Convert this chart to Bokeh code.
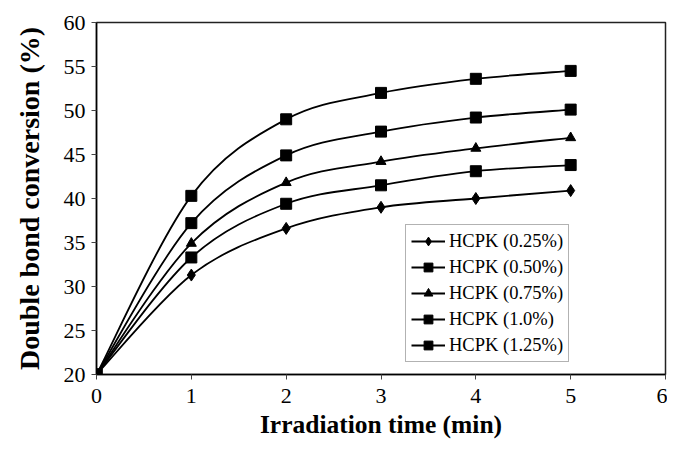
from bokeh.plotting import figure
from bokeh.models import Legend, LegendItem, Range1d, FixedTicker
from bokeh.embed import file_html
from bokeh.resources import INLINE

# ---- data ----
time_min = [0, 1, 2, 3, 4, 5]
hcpk_025 = [20, 31.3, 36.6, 39.0, 40.0, 40.9]
hcpk_050 = [20, 33.3, 39.4, 41.5, 43.1, 43.8]
hcpk_075 = [20, 34.9, 41.8, 44.2, 45.7, 46.9]
hcpk_100 = [20, 37.2, 44.9, 47.6, 49.2, 50.1]
hcpk_125 = [20, 40.3, 49.0, 52.0, 53.6, 54.5]
labels = ["HCPK (0.25%)", "HCPK (0.50%)", "HCPK (0.75%)", "HCPK (1.0%)", "HCPK (1.25%)"]
markers = ["diamond", "square", "triangle", "square", "square"]
x_ticks = [0, 1, 2, 3, 4, 5, 6]
y_ticks = [20, 25, 30, 35, 40, 45, 50, 55, 60]

FONT = "Liberation Serif"

p = figure(width=667, height=446, output_backend="svg", toolbar_location=None,
           x_range=Range1d(0, 6), y_range=Range1d(20, 60),
           min_border_left=96, min_border_top=22, min_border_bottom=72, min_border_right=2)
p.xgrid.visible = False
p.ygrid.visible = False
p.outline_line_color = "#222222"
p.outline_line_width = 1.5
p.background_fill_color = "white"
p.border_fill_color = "white"

for ax in (p.xaxis[0], p.yaxis[0]):
    ax.axis_line_color = "black"
    ax.axis_line_width = 1.5
    ax.major_tick_line_color = "#444444"
    ax.major_tick_in = 0
    ax.major_tick_out = 5
    ax.minor_tick_line_color = None
    ax.major_label_text_font = FONT
    ax.major_label_text_font_size = "22px"
    ax.major_label_text_color = "black"
    ax.axis_label_text_font = FONT
    ax.axis_label_text_font_style = "bold"
    ax.axis_label_text_color = "black"

p.xaxis.axis_label_text_font_size = "25.5px"
p.yaxis.axis_label_text_font_size = "28px"
p.xaxis.ticker = FixedTicker(ticks=x_ticks)
p.yaxis.ticker = FixedTicker(ticks=y_ticks)
p.xaxis.axis_label = "Irradiation time (min)"
p.yaxis.axis_label = "Double bond conversion (%)"
p.xaxis.major_label_standoff = 9
p.xaxis.axis_label_standoff = 4
p.yaxis.major_label_standoff = 6
p.yaxis.axis_label_standoff = 16


def smooth_segments(xs, ys):
    """Excel-style smoothed line: Catmull-Rom control points for Bezier segments."""
    n = len(xs)
    x0, y0, x1, y1, cx0, cy0, cx1, cy1 = [], [], [], [], [], [], [], []
    for i in range(n - 1):
        xp, yp = (xs[i - 1], ys[i - 1]) if i > 0 else (xs[i], ys[i])
        xn, yn = (xs[i + 2], ys[i + 2]) if i + 2 < n else (xs[i + 1], ys[i + 1])
        x0.append(xs[i]); y0.append(ys[i])
        x1.append(xs[i + 1]); y1.append(ys[i + 1])
        cx0.append(xs[i] + (xs[i + 1] - xp) / 6.0)
        cy0.append(ys[i] + (ys[i + 1] - yp) / 6.0)
        cx1.append(xs[i + 1] - (xn - xs[i]) / 6.0)
        cy1.append(ys[i + 1] - (yn - ys[i]) / 6.0)
    return dict(x0=x0, y0=y0, x1=x1, y1=y1, cx0=cx0, cy0=cy0, cx1=cx1, cy1=cy1)


series = [hcpk_025, hcpk_050, hcpk_075, hcpk_100, hcpk_125]
sizes = {"diamond": 12, "square": 11, "triangle": 10}
items = []
for ys, lab, mk in zip(series, labels, markers):
    seg = smooth_segments(time_min, ys)
    br = p.bezier(x0=seg["x0"], y0=seg["y0"], x1=seg["x1"], y1=seg["y1"],
                  cx0=seg["cx0"], cy0=seg["cy0"], cx1=seg["cx1"], cy1=seg["cy1"],
                  line_color="black", line_width=1.8)
    sr = p.scatter(time_min, ys, marker=mk, size=sizes[mk], fill_color="black",
                   line_color="black")
    items.append(LegendItem(label=lab, renderers=[br, sr]))

legend = Legend(items=items, location=(309, 12),
                label_text_font=FONT, label_text_font_size="18.5px",
                label_text_color="black",
                glyph_width=34, glyph_height=22, label_height=22,
                spacing=4, padding=5, margin=0, label_standoff=4,
                border_line_color="#666666", border_line_width=1.5,
                background_fill_color="white", background_fill_alpha=1)
p.add_layout(legend, "center")

open("out.html", "w").write(file_html(p, INLINE))
